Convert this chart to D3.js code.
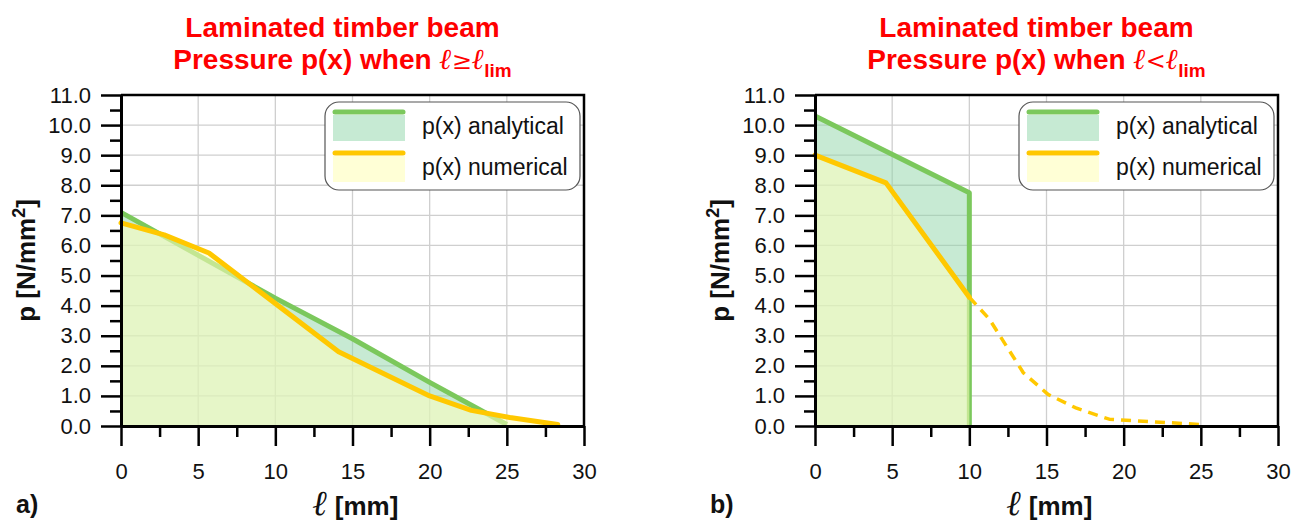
<!DOCTYPE html>
<html>
<head>
<meta charset="utf-8">
<script src="https://cdn.jsdelivr.net/npm/d3@7"></script>
<style>
  body { margin: 0; background: #fff; }
  svg { display: block; font-family: "Liberation Sans", Arial, sans-serif; }
</style>
</head>
<body>
<svg id="chart" width="1292" height="523"></svg>
<script>

/*** data ***/
const xMajor = [0, 5, 10, 15, 20, 25, 30];
const xMinor = [2.5, 7.5, 12.5, 17.5, 22.5, 27.5];
const yMajor = [0, 1, 2, 3, 4, 5, 6, 7, 8, 9, 10, 11];
const yMinor = [0.5, 1.5, 2.5, 3.5, 4.5, 5.5, 6.5, 7.5, 8.5, 9.5, 10.5];
const legendNames = ["p(x) analytical", "p(x) numerical"];

// a) l >= l_lim
const anaA_x = [0, 10, 15, 20, 25];
const anaA_p = [7.1, 4.25, 2.9, 1.45, 0.05];
const numA_x = [0, 2.8, 5.7, 14.1, 20.0, 22.7, 25.2, 28.3];
const numA_p = [6.75, 6.35, 5.75, 2.47, 1.0, 0.52, 0.28, 0.05];

// b) l < l_lim
const anaB_x = [0, 10, 10];
const anaB_p = [10.3, 7.75, 0];
const numB_x = [0, 4.6, 10];
const numB_p = [9.0, 8.08, 4.28];
const tailB_x = [10, 11.3, 13.5, 15.1, 16.9, 19.1, 25];
const tailB_p = [4.28, 3.55, 1.77, 1.05, 0.6, 0.22, 0.05];

const toPts = (xs, ps) => xs.map((x, i) => ({x: x, p: ps[i]}));

/****
 *  one panel of the figure
 */
class pressureChart {

  constructor(svg, opt) {
    this.svg = svg;
    this.opt = opt;
  }

  draw() {
    let o = this.opt;
    let width = 463, height = 331;

    let g = this.svg.append("g")
                    .attr("transform", "translate(" + o.left + "," + o.top + ")");

    let x = d3.scaleLinear().domain([0, 30]).range([0, width]);
    let y = d3.scaleLinear().domain([0, 11]).range([height, 0]);

    // grid
    g.append("g").selectAll("line").data(yMajor.slice(1)).join("line")
      .attr("x1", 0).attr("x2", width)
      .attr("y1", d => y(d)).attr("y2", d => y(d))
      .attr("stroke", "#cfcfcf").attr("stroke-width", 1.3);
    g.append("g").selectAll("line").data(xMajor.slice(1)).join("line")
      .attr("x1", d => x(d)).attr("x2", d => x(d))
      .attr("y1", 0).attr("y2", height)
      .attr("stroke", "#cfcfcf").attr("stroke-width", 1.3);

    let area = d3.area().x(d => x(d.x)).y0(height).y1(d => y(d.p));
    let line = d3.line().x(d => x(d.x)).y(d => y(d.p));

    // analytical
    g.append("path").datum(o.ana)
      .attr("fill", "#8fd6a8").attr("fill-opacity", 0.5)
      .attr("d", area);
    g.append("path").datum(o.ana)
      .attr("fill", "none").attr("stroke", "#7bc85c").attr("stroke-width", 5)
      .attr("stroke-linejoin", "round")
      .attr("d", line);

    // numerical
    g.append("path").datum(o.num)
      .attr("fill", "#ffffc0").attr("fill-opacity", 0.55)
      .attr("d", area);
    g.append("path").datum(o.num)
      .attr("fill", "none").attr("stroke", "#ffc800").attr("stroke-width", 5)
      .attr("stroke-linejoin", "round").attr("stroke-linecap", "round")
      .attr("d", line);
    if (o.tail) {
      g.append("path").datum(o.tail)
        .attr("fill", "none").attr("stroke", "#ffc800").attr("stroke-width", 3.5)
        .attr("stroke-dasharray", "10,7")
        .attr("d", line);
    }

    // frame top / right
    g.append("path")
      .attr("d", "M0,0H" + width + "V" + height)
      .attr("fill", "none").attr("stroke", "#000").attr("stroke-width", 2.5);

    // axes
    let yAx = g.append("g")
      .call(d3.axisLeft(y).tickValues(yMajor).tickSize(20).tickSizeOuter(0)
              .tickPadding(10).tickFormat(d3.format(".1f")));
    let yMin = g.append("g")
      .call(d3.axisLeft(y).tickValues(yMinor).tickSize(11).tickFormat(""));
    let xAx = g.append("g").attr("transform", "translate(0," + height + ")")
      .call(d3.axisBottom(x).tickValues(xMajor).tickSize(20).tickSizeOuter(0)
              .tickPadding(17));
    let xMin = g.append("g").attr("transform", "translate(0," + height + ")")
      .call(d3.axisBottom(x).tickValues(xMinor).tickSize(11).tickFormat(""));
    yMin.select(".domain").remove();
    xMin.select(".domain").remove();
    [yAx, yMin, xAx, xMin].forEach(a => {
      a.selectAll("line").attr("stroke", "#000").attr("stroke-width", 2.5);
      a.selectAll(".domain").attr("stroke", "#000").attr("stroke-width", 3);
      a.selectAll("text").attr("font-size", 22).attr("fill", "#111")
        .attr("font-family", "'Liberation Sans', Arial, sans-serif");
    });

    // legend
    let lg = g.append("g").attr("transform", "translate(" + (width - 259) + ",7)");
    lg.append("rect").attr("width", 255).attr("height", 88).attr("rx", 14)
      .attr("fill", "#fff").attr("stroke", "#555").attr("stroke-width", 1.2);
    let sw = [["#7bc85c", "#c6ead3"], ["#ffc800", "#ffffd6"]];
    legendNames.forEach((name, i) => {
      let yy = 10 + i * 41;
      lg.append("rect").attr("x", 8).attr("y", yy + 3).attr("width", 72).attr("height", 26)
        .attr("fill", sw[i][1]);
      lg.append("line").attr("x1", 10).attr("x2", 78).attr("y1", yy).attr("y2", yy)
        .attr("stroke", sw[i][0]).attr("stroke-width", 5).attr("stroke-linecap", "round");
      lg.append("text").attr("x", 97).attr("y", yy + 22)
        .attr("font-size", 23).attr("fill", "#111").text(name);
    });

    // titles
    let cx = width / 2 - 10;
    g.append("text").attr("x", cx).attr("y", -58).attr("text-anchor", "middle")
      .attr("font-size", 28).attr("font-weight", "bold").attr("fill", "#ff0000")
      .text("Laminated timber beam");
    let t2 = g.append("text").attr("x", cx).attr("y", -26).attr("text-anchor", "middle")
      .attr("font-size", 28).attr("font-weight", "bold").attr("fill", "#ff0000");
    t2.append("tspan").text("Pressure p(x) when ");
    t2.append("tspan").attr("font-family", "'DejaVu Serif', serif").attr("font-style", "italic")
      .attr("font-size", 29).text("\u2113");
    t2.append("tspan").attr("font-family", "'DejaVu Serif', serif").attr("font-weight", "normal")
      .attr("font-size", 24).text(o.sign);
    t2.append("tspan").attr("font-family", "'DejaVu Serif', serif").attr("font-style", "italic")
      .attr("font-size", 29).text("\u2113");
    t2.append("tspan").attr("font-size", 19).attr("dy", 8).text("lim");

    // axis labels
    let yl = g.append("text").attr("transform", "translate(-86," + (height / 2) + ") rotate(-90)")
      .attr("text-anchor", "middle").attr("font-size", 26).attr("font-weight", "bold").attr("fill", "#111");
    yl.append("tspan").text("p [N/mm");
    yl.append("tspan").attr("font-size", 18).attr("dy", -10).text("2");
    yl.append("tspan").attr("dy", 10).text("]");

    let xl = g.append("text").attr("x", width / 2 + 3).attr("y", height + 89)
      .attr("text-anchor", "middle").attr("font-weight", "bold").attr("fill", "#111");
    xl.append("tspan").attr("font-family", "'DejaVu Serif', serif").attr("font-style", "italic")
      .attr("font-size", 35).text("\u2113");
    xl.append("tspan").attr("font-size", 26).text(" [mm]");

    g.append("text").attr("x", -105).attr("y", height + 87)
      .attr("font-size", 25).attr("font-weight", "bold").attr("fill", "#111")
      .text(o.tag);

  } // end of draw

};

const svg = d3.select("#chart");
new pressureChart(svg, {left: 121, top: 95, tag: "a)", sign: "\u2265",
                        ana: toPts(anaA_x, anaA_p), num: toPts(numA_x, numA_p)}).draw();
new pressureChart(svg, {left: 815, top: 95, tag: "b)", sign: "<",
                        ana: toPts(anaB_x, anaB_p), num: toPts(numB_x, numB_p),
                        tail: toPts(tailB_x, tailB_p)}).draw();
</script>
</body>
</html>
